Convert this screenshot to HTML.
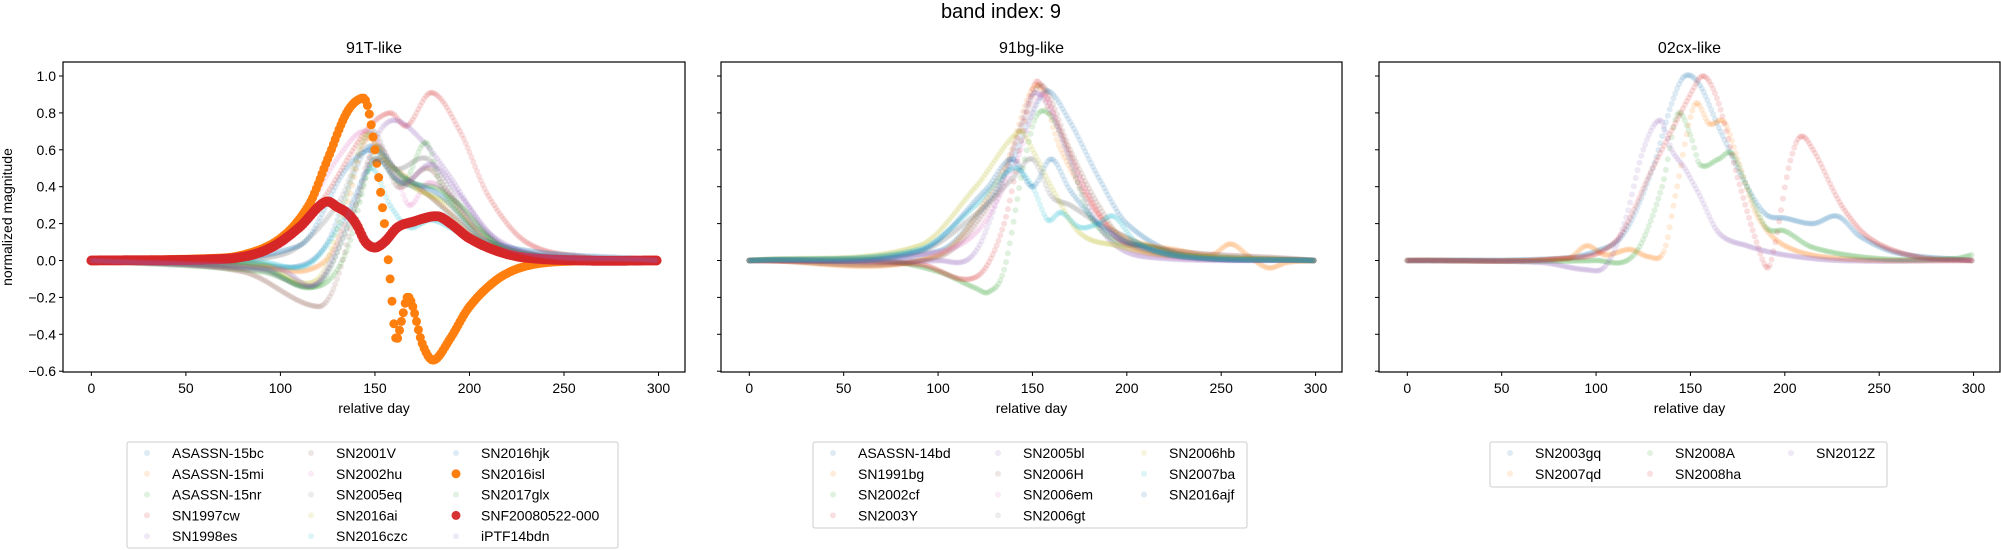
<!DOCTYPE html>
<html><head><meta charset="utf-8"><style>
html,body{margin:0;padding:0;background:#fff;}
svg{display:block;font-family:"Liberation Sans","DejaVu Sans",sans-serif;}
</style></head><body>
<svg id="s" width="2001" height="550" xmlns="http://www.w3.org/2000/svg">
<rect width="2001" height="550" fill="#fff"/>
<text x="1001" y="18" font-size="20" text-anchor="middle" fill="#000">band index: 9</text>
</svg>
<script>
const S=document.getElementById('s');const NS='http://www.w3.org/2000/svg';
function el(t,a,txt){const e=document.createElementNS(NS,t);for(const k in a)e.setAttribute(k,a[k]);if(txt!==undefined)e.textContent=txt;S.appendChild(e);return e;}
const C=['#1f77b4','#ff7f0e','#2ca02c','#d62728','#9467bd','#8c564b','#e377c2','#7f7f7f','#bcbd22','#17becf'];
const TOP=62,BOT=372,Y0=260.5,K=184.5;
function yp(v){return Y0-v*K;}
function interp(pts,x){
 let i=0;while(i<pts.length-2&&pts[i+1][0]<x)i++;
 const p1=pts[i],p2=pts[i+1],p0=pts[Math.max(0,i-1)],p3=pts[Math.min(pts.length-1,i+2)];
 const t=(x-p1[0])/(p2[0]-p1[0]);
 const m1=(p2[1]-p0[1])/((p2[0]-p0[0])||1)*(p2[0]-p1[0]);
 const m2=(p3[1]-p1[1])/((p3[0]-p1[0])||1)*(p2[0]-p1[0]);
 const t2=t*t,t3=t2*t;
 return (2*t3-3*t2+1)*p1[1]+(t3-2*t2+t)*m1+(-2*t3+3*t2)*p2[1]+(t3-t2)*m2;
}
function panel(L,R,title,series,showY,legend){
 const W=R-L,xs=W/329;const xp=d=>L+(d+15)*xs;
 el('text',{x:(L+R)/2,y:53,'font-size':16,'text-anchor':'middle'},title);
 series.forEach((s,i)=>{
  const col=s.c||C[i%10];
  for(let d=0;d<300;d++){el('circle',{cx:xp(d).toFixed(1),cy:yp(interp(s.p,d)).toFixed(1),r:s.r||3,fill:col,'fill-opacity':s.a||0.15});}
 });
 el('rect',{x:L,y:TOP,width:W,height:BOT-TOP,fill:'none',stroke:'#000','stroke-width':1.2});
 [1,0.8,0.6,0.4,0.2,0,-0.2,-0.4,-0.6].forEach(v=>{const y=yp(v);el('line',{x1:L-4,x2:L,y1:y,y2:y,stroke:'#000'});
  if(showY)el('text',{x:L-7,y:y+5,'font-size':14,'text-anchor':'end'},(v<0?'\u2212':'')+Math.abs(v).toFixed(1));});
 [0,50,100,150,200,250,300].forEach(d=>{const x=xp(d);el('line',{x1:x,x2:x,y1:BOT,y2:BOT+4,stroke:'#000'});
  el('text',{x:x,y:393,'font-size':14,'text-anchor':'middle'},d);});
 el('text',{x:(L+R)/2,y:413,'font-size':14,'text-anchor':'middle'},'relative day');
 const lg=legend;el('rect',{x:lg.x,y:442,width:lg.w,height:lg.h,fill:'#fff',stroke:'#ccc',rx:2});
 series.forEach((s,i)=>{const col=Math.floor(i/lg.rows),row=i%lg.rows;const mx=lg.cols[col],y=453+row*20.8;
  el('circle',{cx:mx,cy:y,r:s.r?4.5:3,fill:s.c||C[i%10],'fill-opacity':s.a||0.15});
  el('text',{x:mx+25,y:y+5,'font-size':14},s.n);});
}
const p1=[
{n:'ASASSN-15bc',p:[[0,0],[80,-0.01],[110,-0.03],[125,0.1],[140,0.5],[148,0.62],[160,0.45],[175,0.38],[190,0.25],[210,0.08],[240,0.01],[299,0]]},
{n:'ASASSN-15mi',p:[[0,0],[90,-0.03],[115,-0.05],[130,0.1],[145,0.65],[155,0.55],[170,0.42],[185,0.3],[210,0.08],[250,0],[299,0]]},
{n:'ASASSN-15nr',p:[[0,0],[90,-0.06],[120,-0.14],[135,0.05],[150,0.6],[160,0.5],[170,0.42],[185,0.38],[200,0.2],[230,0.03],[299,0]]},
{n:'SN1997cw',p:[[0,0],[90,0.05],[120,0.3],[145,0.7],[158,0.8],[167,0.73],[180,0.91],[195,0.7],[210,0.35],[230,0.1],[260,0.02],[299,0]]},
{n:'SN1998es',p:[[0,0],[90,-0.05],[120,-0.12],[140,0.3],[150,0.65],[160,0.76],[175,0.65],[190,0.45],[210,0.15],[240,0.02],[299,0]]},
{n:'SN2001V',p:[[0,0],[80,-0.06],[120,-0.25],[130,-0.1],[145,0.5],[152,0.62],[162,0.4],[178,0.5],[190,0.35],[210,0.1],[250,0.01],[299,0]]},
{n:'SN2002hu',p:[[0,0],[100,0.08],[130,0.55],[145,0.7],[160,0.5],[168,0.3],[178,0.42],[190,0.35],[210,0.1],[250,0],[299,0]]},
{n:'SN2005eq',p:[[0,0],[100,0.03],[130,0.3],[148,0.7],[160,0.5],[178,0.55],[195,0.3],[220,0.06],[299,0]]},
{n:'SN2016ai',p:[[0,0],[90,-0.02],[120,-0.1],[135,0.35],[145,0.68],[155,0.55],[170,0.4],[190,0.3],[210,0.1],[250,0.01],[299,0]]},
{n:'SN2016czc',p:[[0,0],[90,-0.01],[115,-0.02],[135,0.25],[148,0.5],[158,0.3],[168,0.18],[180,0.22],[195,0.15],[220,0.04],[299,0]]},
{n:'SN2016hjk',p:[[0,0],[110,0.08],[135,0.5],[150,0.6],[165,0.45],[185,0.35],[210,0.1],[299,0]]},
{n:'SN2016isl',a:1,r:4.5,p:[[0,0],[60,0.01],[80,0.03],[100,0.12],[115,0.3],[125,0.55],[135,0.8],[143,0.88],[146,0.84],[150,0.6],[155,0.2],[158,-0.1],[161,-0.42],[164,-0.33],[167,-0.2],[170,-0.25],[175,-0.45],[181,-0.54],[190,-0.42],[200,-0.25],[215,-0.1],[230,-0.03],[250,-0.005],[299,0]]},
{n:'SN2017glx',p:[[0,0],[90,-0.04],[120,-0.13],[140,0.3],[150,0.55],[165,0.42],[177,0.64],[185,0.4],[195,0.3],[220,0.06],[299,0]]},
{n:'SNF20080522-000',a:0.95,r:5,p:[[0,0],[60,0.005],[80,0.02],[95,0.07],[110,0.18],[120,0.29],[125,0.32],[130,0.29],[135,0.26],[140,0.2],[145,0.1],[150,0.07],[155,0.1],[162,0.18],[170,0.21],[183,0.24],[190,0.2],[200,0.12],[215,0.05],[230,0.015],[260,0],[299,0]]},
{n:'iPTF14bdn',p:[[0,0],[100,-0.05],[120,-0.12],[140,0.35],[150,0.55],[165,0.42],[180,0.52],[195,0.35],[220,0.07],[299,0]]}
];
const p2=[
{n:'ASASSN-14bd',p:[[0,0],[100,0.05],[125,0.3],[140,0.55],[150,0.8],[158,0.92],[170,0.75],[185,0.45],[200,0.2],[230,0.03],[299,0]]},
{n:'SN1991bg',p:[[0,0],[100,0.03],[135,0.5],[152,0.95],[165,0.6],[185,0.25],[200,0.12],[230,0.05],[245,0.03],[255,0.09],[265,0.02],[275,-0.04],[285,-0.01],[299,0]]},
{n:'SN2002cf',p:[[0,0],[70,0],[100,-0.06],[120,-0.15],[127,-0.17],[135,-0.05],[145,0.5],[152,0.78],[160,0.78],[170,0.55],[180,0.25],[195,0.1],[210,0.08],[230,0.03],[299,0]]},
{n:'SN2003Y',p:[[0,0],[90,-0.02],[120,-0.09],[135,0.2],[148,0.85],[153,0.97],[165,0.7],[180,0.35],[195,0.12],[230,0.02],[299,0]]},
{n:'SN2005bl',p:[[0,0],[100,0],[120,0.05],[140,0.6],[150,0.9],[160,0.8],[175,0.4],[190,0.12],[210,0.02],[299,0]]},
{n:'SN2006H',p:[[0,0],[100,0.02],[130,0.35],[145,0.75],[155,0.95],[170,0.6],[185,0.3],[200,0.1],[299,0]]},
{n:'SN2006em',p:[[0,0],[90,0.03],[120,0.15],[142,0.55],[155,0.9],[168,0.6],[185,0.25],[205,0.05],[299,0]]},
{n:'SN2006gt',p:[[0,0],[90,0.05],[120,0.25],[140,0.45],[150,0.55],[160,0.35],[170,0.3],[185,0.2],[195,0.15],[220,0.04],[299,0]]},
{n:'SN2006hb',p:[[0,0],[90,0.08],[120,0.4],[143,0.7],[150,0.6],[160,0.4],[175,0.15],[195,0.08],[220,0.03],[299,0]]},
{n:'SN2007ba',p:[[0,0],[90,0.06],[120,0.3],[140,0.5],[150,0.4],[158,0.22],[165,0.26],[175,0.18],[185,0.2],[193,0.24],[205,0.1],[230,0.02],[299,0]]},
{n:'SN2016ajf',p:[[0,0],[90,0.05],[125,0.38],[139,0.55],[150,0.4],[160,0.55],[170,0.38],[185,0.2],[200,0.1],[230,0.02],[299,0]]}
];
const p3=[
{n:'SN2003gq',p:[[0,0],[80,0.01],[100,0.05],[115,0.15],[130,0.5],[140,0.85],[147,1.0],[155,0.95],[165,0.72],[180,0.4],[190,0.25],[200,0.23],[215,0.2],[228,0.24],[240,0.13],[260,0.04],[299,0]]},
{n:'SN2007qd',p:[[0,0],[85,0.01],[95,0.08],[105,0.03],[118,0.06],[128,0.02],[136,0.05],[142,0.35],[152,0.84],[160,0.74],[168,0.75],[175,0.55],[185,0.25],[200,0.08],[230,0.01],[299,0]]},
{n:'SN2008A',p:[[0,0],[100,0],[120,0.03],[135,0.4],[143,0.79],[150,0.68],[155,0.52],[165,0.55],[172,0.58],[180,0.4],[190,0.18],[200,0.16],[215,0.07],[250,0.01],[290,0.01],[299,0.03]]},
{n:'SN2008ha',p:[[0,0],[80,0.01],[110,0.1],[130,0.5],[150,0.9],[157,1.0],[165,0.85],[175,0.45],[185,0.1],[191,-0.04],[195,0.1],[202,0.5],[208,0.67],[215,0.6],[230,0.3],[245,0.12],[270,0.02],[299,0]]},
{n:'SN2012Z',p:[[0,0],[70,-0.01],[95,-0.05],[105,-0.03],[115,0.2],[125,0.6],[134,0.76],[140,0.6],[147,0.5],[155,0.35],[165,0.15],[180,0.08],[200,0.03],[230,0],[299,0]]}
];
panel(63,685,'91T-like',p1,true,{x:127,w:491,h:106,rows:5,cols:[147,311,456]});
panel(721,1342,'91bg-like',p2,false,{x:813,w:434,h:86,rows:4,cols:[833,998,1144]});
panel(1379,2000,'02cx-like',p3,false,{x:1490,w:397,h:45,rows:2,cols:[1510,1650,1791]});
el('text',{x:0,y:0,'font-size':14,'text-anchor':'middle',transform:'translate(12,217) rotate(-90)'},'normalized magnitude');
</script>
</body></html>
